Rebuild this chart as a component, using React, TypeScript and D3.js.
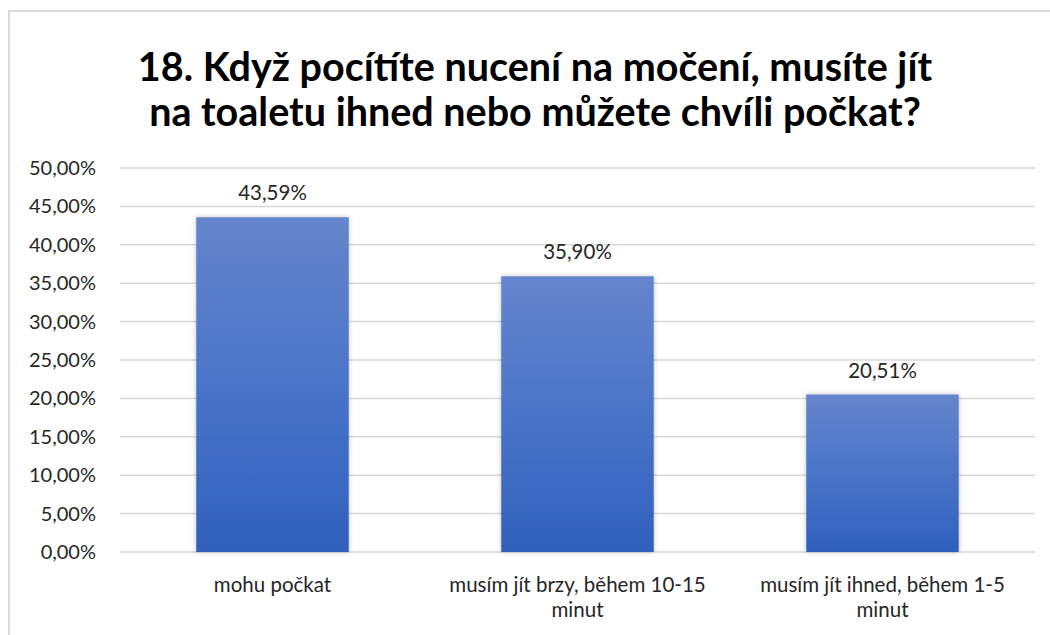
import React, { useEffect, useRef } from 'react';
import * as d3 from 'd3';

const title = ['18. Když pocítíte nucení na močení, musíte jít', 'na toaletu ihned nebo můžete chvíli počkat?'];
const categories = ['mohu počkat', 'musím jít brzy, během 10-15 minut', 'musím jít ihned, během 1-5 minut'];
const categoryLines = [['mohu počkat'], ['musím jít brzy, během 10-15', 'minut'], ['musím jít ihned, během 1-5', 'minut']];
const values = [0.4359, 0.359, 0.2051];
const yTicks = [0, 0.05, 0.1, 0.15, 0.2, 0.25, 0.3, 0.35, 0.4, 0.45, 0.5];

const App = () => {
  const ref = useRef<SVGSVGElement>(null);

  useEffect(() => {
    const width = 1050;
    const height = 635;
    const margin = { top: 168, right: 15, bottom: 83, left: 120 };
    const font = 'Lato, "Open Sans", sans-serif';

    const svg = d3.select(ref.current);
    svg.selectAll('*').remove();

    const locale = d3.formatLocale({ decimal: ',', thousands: ' ', grouping: [3], currency: ['', ' Kč'] });
    const pct = locale.format('.2%');

    const defs = svg.append('defs');
    const grad = defs.append('linearGradient').attr('id', 'barGrad').attr('x1', 0).attr('y1', 0).attr('x2', 0).attr('y2', 1);
    grad.append('stop').attr('offset', '0%').attr('stop-color', '#6585cc');
    grad.append('stop').attr('offset', '50%').attr('stop-color', '#4a74c8');
    grad.append('stop').attr('offset', '100%').attr('stop-color', '#2f60bc');
    const shadow = defs.append('filter').attr('id', 'shadow').attr('x', '-10%').attr('y', '-10%').attr('width', '120%').attr('height', '120%');
    shadow.append('feDropShadow').attr('dx', 0).attr('dy', 0).attr('stdDeviation', 2.5).attr('flood-color', '#000').attr('flood-opacity', 0.25);

    // chart frame
    svg.append('rect')
      .attr('x', 9).attr('y', 11).attr('width', 1200).attr('height', 800)
      .attr('fill', '#fff').attr('stroke', '#d9d9d9').attr('stroke-width', 2);

    const x = d3.scaleBand().domain(categories).range([margin.left, width - margin.right])
      .paddingInner(0.5).paddingOuter(0.25);
    const y = d3.scaleLinear().domain([0, 0.5]).range([height - margin.bottom, margin.top]);

    // gridlines
    svg.append('g')
      .selectAll('line')
      .data(yTicks)
      .enter()
      .append('line')
      .attr('x1', margin.left)
      .attr('x2', width - margin.right)
      .attr('y1', d => y(d))
      .attr('y2', d => y(d))
      .attr('stroke', '#d9d9d9')
      .attr('stroke-width', 1.5);

    // y tick labels
    svg.append('g')
      .selectAll('text')
      .data(yTicks)
      .enter()
      .append('text')
      .attr('x', 96)
      .attr('y', d => y(d))
      .attr('dy', '0.35em')
      .attr('text-anchor', 'end')
      .attr('font-family', font)
      .attr('font-size', 20)
      .attr('fill', '#262626')
      .text(d => pct(d));

    // bars
    svg.append('g')
      .selectAll('rect')
      .data(values)
      .enter()
      .append('rect')
      .attr('x', (d, i) => x(categories[i]) as number)
      .attr('y', d => y(d))
      .attr('width', x.bandwidth())
      .attr('height', d => y(0) - y(d))
      .attr('fill', 'url(#barGrad)')
      .attr('filter', 'url(#shadow)');

    // value labels
    svg.append('g')
      .selectAll('text')
      .data(values)
      .enter()
      .append('text')
      .attr('x', (d, i) => (x(categories[i]) as number) + x.bandwidth() / 2)
      .attr('y', d => y(d) - 24)
      .attr('dy', '0.35em')
      .attr('text-anchor', 'middle')
      .attr('font-family', font)
      .attr('font-size', 20.5)
      .attr('fill', '#262626')
      .text(d => pct(d));

    // category labels
    const cats = svg.append('g')
      .selectAll('text')
      .data(categories)
      .enter()
      .append('text')
      .attr('y', 585)
      .attr('text-anchor', 'middle')
      .attr('font-family', font)
      .attr('font-size', 20.5)
      .attr('fill', '#262626');
    cats.each(function (d, i) {
      const t = d3.select(this);
      categoryLines[i].forEach((line, j) => {
        t.append('tspan')
          .attr('x', (x(d) as number) + x.bandwidth() / 2)
          .attr('dy', j === 0 ? '0.35em' : 25)
          .text(line);
      });
    });

    // title
    svg.append('g')
      .selectAll('text')
      .data(title)
      .enter()
      .append('text')
      .attr('x', 535)
      .attr('y', (d, i) => 81 + i * 45)
      .attr('text-anchor', 'middle')
      .attr('font-family', font)
      .attr('font-weight', 'bold')
      .attr('font-size', 39.5)
      .attr('fill', '#000')
      .text(d => d);

    return () => {
      svg.selectAll('*').remove();
    };
  }, []);

  return (
    <svg
      ref={ref}
      width={1050}
      height={635}
      style={{ position: 'absolute', left: 0, top: 0, background: '#fff' }}
    />
  );
};

export default App;
